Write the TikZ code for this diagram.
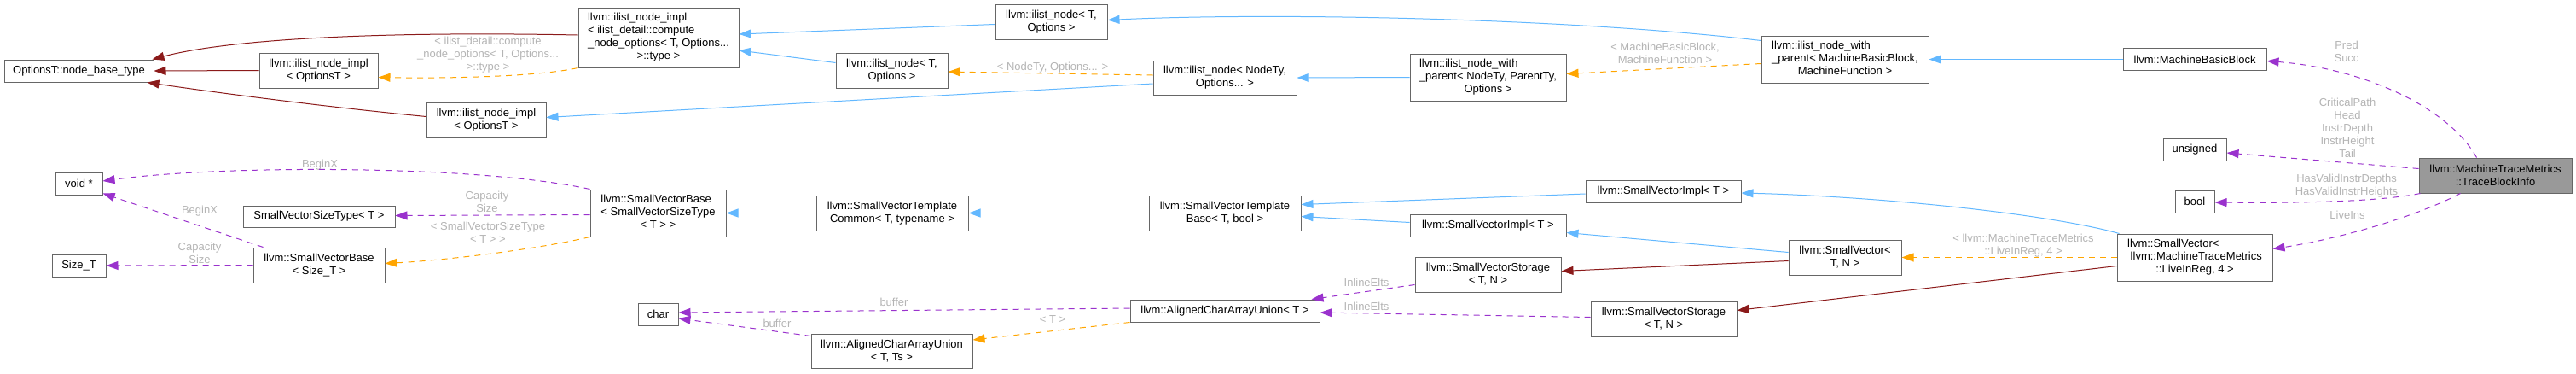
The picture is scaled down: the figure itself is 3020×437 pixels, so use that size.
\documentclass[tikz,border=0pt]{standalone}
\usepackage{fontspec}
\setmainfont{Liberation Sans}
\usepackage{tikz}
\usetikzlibrary{
  positioning,
  arrows.meta,
  calc
}
\definecolor{inhblue}{HTML}{63B8FF}
\definecolor{privred}{HTML}{8B1A1A}
\definecolor{usepurple}{HTML}{9A32CD}
\definecolor{tmplorange}{HTML}{FFA500}
\definecolor{boxgray}{HTML}{666666}
\definecolor{lblgray}{HTML}{B4B4B4}
\definecolor{mainfill}{HTML}{999999}
\newcommand{\dxfont}{\fontsize{13}{15}\selectfont}
\newcommand{\lastln}[1]{\multicolumn{1}{@{}c@{}}{#1}}

\begin{document}
\begin{tikzpicture}[x=1pt, y=-1pt,
  cls/.style={draw=boxgray, fill=white, line width=1pt, inner sep=0pt, font=\dxfont, align=center},
  lbl/.style={text=lblgray, font=\dxfont, align=center, inner sep=0pt},
  pub/.style={draw=inhblue, line width=1pt, -{Triangle[length=14pt,width=10pt]}},
  priv/.style={draw=privred, line width=1pt, -{Triangle[length=14pt,width=10pt]}},
  uses/.style={draw=usepurple, line width=1pt, dash pattern=on 7pt off 6pt, -{Triangle[length=14pt,width=10pt]}},
  tmpl/.style={draw=tmplorange, line width=1pt, dash pattern=on 7pt off 6pt, -{Triangle[length=14pt,width=10pt]}}
]
  \useasboundingbox (0,0) rectangle (3020,437);

  % left column
  \node[cls, minimum width=175pt, minimum height=26pt] (nbt) at (92.5,83) {OptionsT::node\_base\_type};
  \node[cls, minimum width=55pt, minimum height=26pt] (voidp) at (92.5,215) {void *};
  \node[cls, minimum width=63pt, minimum height=26pt] (sizeT) at (92.5,311) {Size\_T};

  \node[cls, minimum width=139pt, minimum height=41pt] (implA) at (373.5,82.5) {llvm::ilist\_node\_impl\\< OptionsT >};
  \node[cls, minimum width=178pt, minimum height=25pt] (svst) at (374,253.5) {SmallVectorSizeType< T >};
  \node[cls, minimum width=154pt, minimum height=41pt] (svbT) at (374,310.5) {llvm::SmallVectorBase\\< Size\_T >};
  \node[cls, minimum width=140pt, minimum height=41pt] (implB) at (570,140.5) {llvm::ilist\_node\_impl\\< OptionsT >};

  \node[cls, minimum width=188pt, minimum height=70pt] (implC) at (772,44)
    {\begin{tabular}{@{}l@{}}llvm::ilist\_node\_impl\\< ilist\_detail::compute\\\_node\_options< T, Options...\\\lastln{>::type >}\end{tabular}};
  \node[cls, minimum width=159pt, minimum height=55pt] (svbS) at (771.5,249.5)
    {\begin{tabular}{@{}l@{}}llvm::SmallVectorBase\\< SmallVectorSizeType\\\lastln{< T > >}\end{tabular}};
  \node[cls, minimum width=47pt, minimum height=26pt] (charN) at (771.5,368) {char};

  % middle
  \node[cls, minimum width=131pt, minimum height=41pt] (nodeTT) at (1045.5,82.5) {llvm::ilist\_node< T,\\Options >};
  \node[cls, minimum width=178pt, minimum height=41pt] (svtc) at (1046,249.5) {llvm::SmallVectorTemplate\\Common< T, typename >};
  \node[cls, minimum width=189pt, minimum height=40pt] (acauTs) at (1045.5,411) {llvm::AlignedCharArrayUnion\\< T, Ts >};
  \node[cls, minimum width=131pt, minimum height=41pt] (nodeTO) at (1232.5,25.5) {llvm::ilist\_node< T,\\Options >};

  \node[cls, minimum width=168pt, minimum height=40pt] (nodeNT) at (1436,91) {llvm::ilist\_node< NodeTy,\\Options... >};
  \node[cls, minimum width=178pt, minimum height=41pt] (svtb) at (1436,249.5) {llvm::SmallVectorTemplate\\Base< T, bool >};
  \node[cls, minimum width=222pt, minimum height=26pt] (acauT) at (1436,364) {llvm::AlignedCharArrayUnion< T >};

  \node[cls, minimum width=183pt, minimum height=55pt] (nwpA) at (1744.5,90.5)
    {\begin{tabular}{@{}l@{}}llvm::ilist\_node\_with\\\_parent< NodeTy, ParentTy,\\\lastln{Options >}\end{tabular}};
  \node[cls, minimum width=183pt, minimum height=26pt] (sviB) at (1744.5,264.5) {llvm::SmallVectorImpl< T >};
  \node[cls, minimum width=171pt, minimum height=41pt] (svsA) at (1744.5,321.5) {llvm::SmallVectorStorage\\< T, N >};

  \node[cls, minimum width=182pt, minimum height=26pt] (sviA) at (1950,224) {llvm::SmallVectorImpl< T >};
  \node[cls, minimum width=171pt, minimum height=41pt] (svsB) at (1950.5,373.5) {llvm::SmallVectorStorage\\< T, N >};

  \node[cls, minimum width=196pt, minimum height=55pt] (nwpB) at (2163,69.5)
    {\begin{tabular}{@{}l@{}}llvm::ilist\_node\_with\\\_parent< MachineBasicBlock,\\\lastln{MachineFunction >}\end{tabular}};
  \node[cls, minimum width=132pt, minimum height=41pt] (svTN) at (2163,301.5) {llvm::SmallVector<\\T, N >};

  % right column
  \node[cls, minimum width=168pt, minimum height=26pt] (mbb) at (2573,69.5) {llvm::MachineBasicBlock};
  \node[cls, minimum width=74pt, minimum height=26pt] (uns) at (2573,175) {unsigned};
  \node[cls, minimum width=46pt, minimum height=26pt] (boolN) at (2573,236) {bool};
  \node[cls, minimum width=182pt, minimum height=55pt] (svLive) at (2573,301.5)
    {\begin{tabular}{@{}l@{}}llvm::SmallVector<\\\hspace{3.5pt}llvm::MachineTraceMetrics\\\lastln{::LiveInReg, 4 >}\end{tabular}};
  \node[cls, fill=mainfill, minimum width=179pt, minimum height=41pt] (tbi) at (2925.5,205.5) {llvm::MachineTraceMetrics\\::TraceBlockInfo};

  % edge labels
  \node[lbl] (lCompute) at (572,64) {< ilist\_detail::compute\\\_node\_options< T, Options...\\>::type >};
  \node[lbl] (lBeginA) at (375,193) {BeginX};
  \node[lbl] (lBeginB) at (234,247) {BeginX};
  \node[lbl] (lCapA) at (571,236.5) {Capacity\\Size};
  \node[lbl] (lCapB) at (234,296) {Capacity\\Size};
  \node[lbl] (lSizeType) at (572,272.5) {< SmallVectorSizeType\\< T > >};
  \node[lbl] (lNodeTy) at (1234,79) {< NodeTy, Options... >};
  \node[lbl] (lMBB) at (1952,62.5) {< MachineBasicBlock,\\MachineFunction >};
  \node[lbl] (lPred) at (2751,60) {Pred\\Succ};
  \node[lbl] (lCrit) at (2752,150) {CriticalPath\\Head\\InstrDepth\\InstrHeight\\Tail};
  \node[lbl] (lValid) at (2751,217.5) {HasValidInstrDepths\\HasValidInstrHeights};
  \node[lbl] (lLive) at (2752,252) {LiveIns};
  \node[lbl] (lLiveReg) at (2372,287.5) {< llvm::MachineTraceMetrics\\::LiveInReg, 4 >};
  \node[lbl] (lBufA) at (1048,354) {buffer};
  \node[lbl] (lBufB) at (911,379) {buffer};
  \node[lbl] (lInlA) at (1602,331) {InlineElts};
  \node[lbl] (lInlB) at (1602,359) {InlineElts};
  \node[lbl] (lT) at (1234,374) {< T >};

  % ilist part
  \draw[priv] ($(implC.west)+(0,-3)$) .. controls (420,36) and (260,48) .. ($(nbt.north east)+(-2,0)$);
  \draw[priv] (implA.west) -- (nbt.east);
  \draw[priv] ($(implB.west)+(0,-4)$) .. controls (380,125) and (250,108) .. ($(nbt.south east)+(-8,0)$);
  \draw[tmpl] (implC.south west) .. controls (630,90) and (520,92) .. ($(implA.east)+(0,8)$);
  \draw[pub] ($(nodeTO.west)+(0,3)$) -- ($(implC.east)+(0,-4)$);
  \draw[pub] ($(nodeTT.west)+(0,-9)$) -- ($(implC.east)+(0,15)$);
  \draw[pub] ($(nodeNT.west)+(0,7)$) -- ($(implB.east)+(0,-3)$);
  \draw[tmpl] ($(nodeNT.west)+(0,-3)$) -- ($(nodeTT.east)+(0,1.5)$);
  \draw[pub] (nwpA.west) -- (nodeNT.east);
  \draw[pub] ($(nwpB.north west)+(0,6)$) .. controls (1850,22) and (1500,14) .. ($(nodeTO.east)+(0,-2)$);
  \draw[tmpl] ($(nwpB.west)+(0,5)$) -- ($(nwpA.east)+(0,-4)$);
  \draw[pub] (mbb.west) -- (nwpB.east);

  % members of TraceBlockInfo
  \draw[uses] ($(tbi.north)+(-22,0)$) .. controls (2870,125) and (2770,80) .. ($(mbb.east)+(0,2)$);
  \draw[uses] ($(tbi.west)+(0,-8)$) -- ($(uns.east)+(0,4)$);
  \draw[uses] ($(tbi.south west)+(2,0)$) .. controls (2790,236) and (2700,238) .. ($(boolN.east)+(0,1)$);
  \draw[uses] ($(tbi.south)+(-41,0)$) .. controls (2830,255) and (2740,280) .. ($(svLive.east)+(0,-10)$);

  % SmallVector part
  \draw[pub] ($(svLive.north west)+(3,0)$) .. controls (2400,250) and (2200,230) .. ($(sviA.east)+(0,2)$);
  \draw[tmpl] (svLive.west) -- (svTN.east);
  \draw[priv] ($(svLive.west)+(0,10)$) -- ($(svsB.east)+(0,-10)$);
  \draw[pub] ($(svTN.west)+(0,-6)$) -- ($(sviB.east)+(0,8)$);
  \draw[priv] ($(svTN.west)+(0,4)$) -- ($(svsA.east)+(0,-4)$);
  \draw[pub] ($(sviA.west)+(0,3)$) -- ($(svtb.east)+(0,-10)$);
  \draw[pub] ($(sviB.west)+(0,-4)$) -- ($(svtb.east)+(0,4)$);
  \draw[pub] (svtb.west) -- (svtc.east);
  \draw[pub] (svtc.west) -- (svbS.east);
  \draw[uses] (svbS.north west) .. controls (560,193) and (260,193) .. ($(voidp.east)+(0,-3)$);
  \draw[uses] ($(svbS.west)+(0,2)$) -- ($(svst.east)+(0,-1)$);
  \draw[tmpl] (svbS.south west) .. controls (630,292) and (520,305) .. ($(svbT.east)+(0,-2)$);
  \draw[uses] ($(svbT.north west)+(12,0)$) -- ($(voidp.south east)+(0,-2)$);
  \draw[uses] (svbT.west) -- (sizeT.east);
  \draw[uses] ($(svsA.west)+(0,12)$) -- ($(acauT.north east)+(-10,0)$);
  \draw[uses] ($(svsB.west)+(0,-2)$) -- ($(acauT.east)+(0,2)$);
  \draw[uses] ($(acauT.west)+(0,-3)$) -- ($(charN.east)+(0,-2)$);
  \draw[tmpl] (acauT.south west) -- ($(acauTs.east)+(0,-13)$);
  \draw[uses] ($(acauTs.north west)+(0,3)$) -- ($(charN.east)+(0,5)$);
\end{tikzpicture}
\end{document}
